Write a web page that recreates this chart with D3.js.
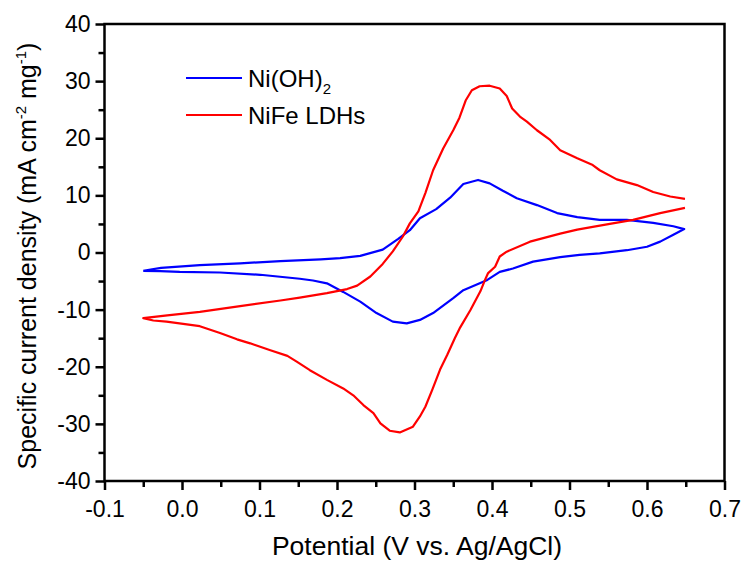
<!DOCTYPE html>
<html>
<head>
<meta charset="utf-8">
<script src="https://cdn.jsdelivr.net/npm/d3@7"></script>
<style>
  html, body { margin: 0; padding: 0; background: #fff; }
  svg { display: block; }
  text { font-family: "Liberation Sans", Arial, sans-serif; fill: #000; }
</style>
</head>
<body>
<svg id="chart" width="745" height="562"></svg>
<script>
// ---- data (Potential V vs Ag/AgCl, specific current density mA cm-2 mg-1) ----
const seriesNames = ["Ni(OH)", "NiFe LDHs"];
const seriesColors = ["#0000FF", "#FF0000"];

const niOH2Forward = [
  [-0.050,-3.2],[-0.027,-2.7],[0.023,-2.2],[0.075,-1.9],[0.127,-1.5],[0.179,-1.2],
  [0.204,-1.0],[0.230,-0.6],[0.259,0.5],[0.279,2.4],[0.294,3.9],[0.307,6.0],
  [0.328,7.6],[0.346,9.6],[0.363,12.0],[0.382,12.7],[0.397,12.1],[0.414,10.8],
  [0.432,9.5],[0.458,8.3],[0.484,6.9],[0.510,6.2],[0.539,5.7],[0.574,5.7],
  [0.608,5.2],[0.634,4.6],[0.648,4.1]
];
const niOH2Reverse = [
  [0.634,3.1],[0.617,1.9],[0.600,1.0],[0.574,0.4],[0.539,-0.15],[0.513,-0.4],
  [0.488,-0.8],[0.453,-1.6],[0.427,-2.8],[0.410,-3.4],[0.394,-4.8],[0.363,-6.6],
  [0.350,-8.0],[0.324,-10.6],[0.307,-11.8],[0.290,-12.4],[0.272,-12.1],[0.251,-10.6],
  [0.230,-8.6],[0.208,-6.9],[0.187,-5.4],[0.169,-4.9],[0.152,-4.6],[0.101,-3.9],
  [0.049,-3.5],[-0.003,-3.4],[-0.028,-3.25],[-0.050,-3.2]
];
const niFeForward = [
  [-0.050,-11.5],[-0.019,-11.0],[0.023,-10.4],[0.075,-9.4],[0.127,-8.4],[0.152,-7.9],
  [0.187,-7.1],[0.213,-6.4],[0.226,-5.8],[0.243,-4.2],[0.259,-2.0],[0.272,0.2],[0.285,2.8],
  [0.294,5.1],[0.305,7.2],[0.314,10.4],[0.324,14.4],[0.337,18.2],[0.350,21.4],[0.358,23.6],
  [0.366,26.6],[0.374,28.4],[0.384,29.1],[0.397,29.2],[0.410,28.7],[0.419,27.4],[0.426,25.2],
  [0.436,23.8],[0.445,22.9],[0.458,21.4],[0.475,19.7],[0.488,17.9],[0.510,16.5],[0.530,15.3],
  [0.539,14.4],[0.561,12.8],[0.587,11.8],[0.608,10.6],[0.630,9.8],[0.649,9.4]
];
const niFeReverse = [
  [0.649,7.8],[0.617,6.9],[0.582,5.7],[0.552,5.0],[0.530,4.5],[0.510,4.0],
  [0.488,3.3],[0.449,1.9],[0.419,0.15],[0.410,-0.7],[0.404,-2.5],[0.395,-3.6],
  [0.391,-4.8],[0.385,-6.8],[0.372,-10.1],[0.359,-13.1],[0.352,-15.0],[0.342,-18.0],
  [0.333,-20.5],[0.323,-24.0],[0.314,-27.0],[0.307,-28.7],[0.298,-30.5],[0.281,-31.5],
  [0.268,-31.2],[0.256,-29.9],[0.247,-28.1],[0.234,-26.7],[0.221,-25.0],[0.208,-23.8],
  [0.187,-22.3],[0.165,-20.6],[0.148,-19.1],[0.136,-18.1],[0.114,-17.1],[0.088,-15.9],
  [0.071,-15.2],[0.049,-14.1],[0.023,-12.9],[-0.020,-12.1],[-0.037,-11.9],[-0.050,-11.5]
];

const xTickValues = [-0.1, 0.0, 0.1, 0.2, 0.3, 0.4, 0.5, 0.6, 0.7];
const xMinorValues = [-0.05, 0.05, 0.15, 0.25, 0.35, 0.45, 0.55, 0.65];
const yTickValues = [-40, -30, -20, -10, 0, 10, 20, 30, 40];
const yMinorValues = [-35, -25, -15, -5, 5, 15, 25, 35];

// ---- drawing ----
const svg = d3.select("#chart");
const X0 = 104.5, X1 = 724.5, Y0 = 481, Y1 = 24;
const x = d3.scaleLinear().domain([-0.1, 0.7]).range([X0, X1]);
const y = d3.scaleLinear().domain([-40, 40]).range([Y0, Y1]);

const axisW = 2.5;
const hy = f => d => f(d).replace("\u2212", "-");

const xMajor = svg.append("g").attr("transform", `translate(0,${Y0})`)
  .call(d3.axisBottom(x).tickValues(xTickValues).tickSize(9).tickSizeOuter(0)
    .tickPadding(11).tickFormat(hy(d3.format(".1f"))));
const xMinor = svg.append("g").attr("transform", `translate(0,${Y0})`)
  .call(d3.axisBottom(x).tickValues(xMinorValues).tickSize(6).tickSizeOuter(0).tickFormat(""));
const yMajor = svg.append("g").attr("transform", `translate(${X0},0)`)
  .call(d3.axisLeft(y).tickValues(yTickValues).tickSize(9).tickSizeOuter(0)
    .tickPadding(5).tickFormat(hy(d3.format("d"))));
const yMinor = svg.append("g").attr("transform", `translate(${X0},0)`)
  .call(d3.axisLeft(y).tickValues(yMinorValues).tickSize(6).tickSizeOuter(0).tickFormat(""));

[xMajor, xMinor, yMajor, yMinor].forEach(g => {
  g.select(".domain").remove();
  g.selectAll(".tick line").attr("stroke", "#000").attr("stroke-width", axisW);
  g.selectAll(".tick text").attr("font-family", "'Liberation Sans', Arial, sans-serif")
    .attr("font-size", 23).attr("fill", "#000");
});

// frame
svg.append("rect").attr("x", X0).attr("y", Y1).attr("width", X1 - X0).attr("height", Y0 - Y1)
  .attr("fill", "none").attr("stroke", "#000").attr("stroke-width", axisW);

// curves (NiFe drawn from its return end so the two ends at 0.65 V stay open)
const line = d3.line().x(d => x(d[0])).y(d => y(d[1]));
const loops = [
  niOH2Forward.concat(niOH2Reverse),
  niFeReverse.concat(niFeForward)
];
loops.forEach((pts, i) => {
  svg.append("path").datum(pts).attr("d", line)
    .attr("fill", "none").attr("stroke", seriesColors[i]).attr("stroke-width", 2.2)
    .attr("stroke-linejoin", "round");
});

// legend
const legY = [78, 115];
seriesNames.forEach((name, i) => {
  svg.append("line").attr("x1", 186).attr("x2", 242).attr("y1", legY[i]).attr("y2", legY[i])
    .attr("stroke", seriesColors[i]).attr("stroke-width", 2.2);
  const t = svg.append("text").attr("x", 248).attr("y", legY[i] + 9).attr("font-size", 24).text(name);
  if (i === 0) t.append("tspan").attr("font-size", 15).attr("dy", 7).text("2");
});

// axis titles
svg.append("text").attr("x", 417).attr("y", 555).attr("text-anchor", "middle")
  .attr("font-size", 26.5).text("Potential (V vs. Ag/AgCl)");

const yt = svg.append("text").attr("transform", `translate(36,256) rotate(-90)`)
  .attr("text-anchor", "middle").attr("font-size", 25);
yt.append("tspan").text("Specific current density (mA cm");
yt.append("tspan").attr("font-size", 15).attr("dy", -10).text("-2");
yt.append("tspan").attr("dy", 10).text(" mg");
yt.append("tspan").attr("font-size", 15).attr("dy", -10).text("-1");
yt.append("tspan").attr("dy", 10).text(")");
</script>
</body>
</html>
